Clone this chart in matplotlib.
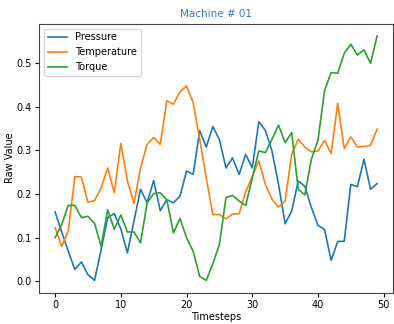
import matplotlib
matplotlib.use('Agg')
import matplotlib.pyplot as plt
import numpy as np

timesteps = np.arange(50)

pressure = [0.159, 0.113, 0.069, 0.027, 0.044, 0.015, 0.002, 0.072, 0.146, 0.155,
            0.120, 0.065, 0.138, 0.211, 0.180, 0.231, 0.162, 0.187, 0.180, 0.195,
            0.253, 0.245, 0.345, 0.308, 0.355, 0.325, 0.260, 0.283, 0.245, 0.291,
            0.260, 0.366, 0.346, 0.299, 0.222, 0.132, 0.161, 0.230, 0.218, 0.169,
            0.128, 0.119, 0.048, 0.091, 0.092, 0.222, 0.217, 0.280, 0.211, 0.224]

temperature = [0.123, 0.080, 0.115, 0.240, 0.239, 0.181, 0.185, 0.214, 0.260, 0.203,
               0.316, 0.230, 0.178, 0.260, 0.314, 0.330, 0.314, 0.414, 0.406, 0.435,
               0.448, 0.410, 0.326, 0.237, 0.153, 0.153, 0.143, 0.154, 0.155, 0.205,
               0.240, 0.276, 0.222, 0.188, 0.170, 0.184, 0.291, 0.326, 0.308, 0.297,
               0.299, 0.323, 0.293, 0.408, 0.304, 0.331, 0.308, 0.309, 0.312, 0.349]

torque = [0.100, 0.130, 0.174, 0.174, 0.146, 0.149, 0.133, 0.080, 0.164, 0.119,
          0.152, 0.113, 0.113, 0.088, 0.180, 0.201, 0.203, 0.187, 0.111, 0.144,
          0.100, 0.069, 0.011, 0.002, 0.040, 0.084, 0.192, 0.197, 0.184, 0.174,
          0.237, 0.299, 0.295, 0.326, 0.358, 0.318, 0.341, 0.211, 0.198, 0.280,
          0.323, 0.437, 0.479, 0.477, 0.523, 0.544, 0.519, 0.531, 0.500, 0.563]

plt.rcParams['font.size'] = 7

fig = plt.figure(figsize=(3.94, 3.24), dpi=100)
ax = fig.add_axes([0.099, 0.097, 0.899, 0.830])

ax.plot(timesteps, pressure, label='Pressure', lw=1.2)
ax.plot(timesteps, temperature, label='Temperature', lw=1.2)
ax.plot(timesteps, torque, label='Torque', lw=1.2)

ax.set_title('Machine # 01', color='#3a7cbd', fontsize=7.5, pad=5)
ax.set_xlabel('Timesteps', labelpad=2)
ax.set_ylabel('Raw Value', labelpad=1)
ax.set_xticks([0, 10, 20, 30, 40, 50])
ax.tick_params(length=3, pad=2)
for s in ax.spines.values():
    s.set_color('#444444')
ax.legend(loc='upper left', fontsize=7)

fig.savefig('out.png', dpi=100)
